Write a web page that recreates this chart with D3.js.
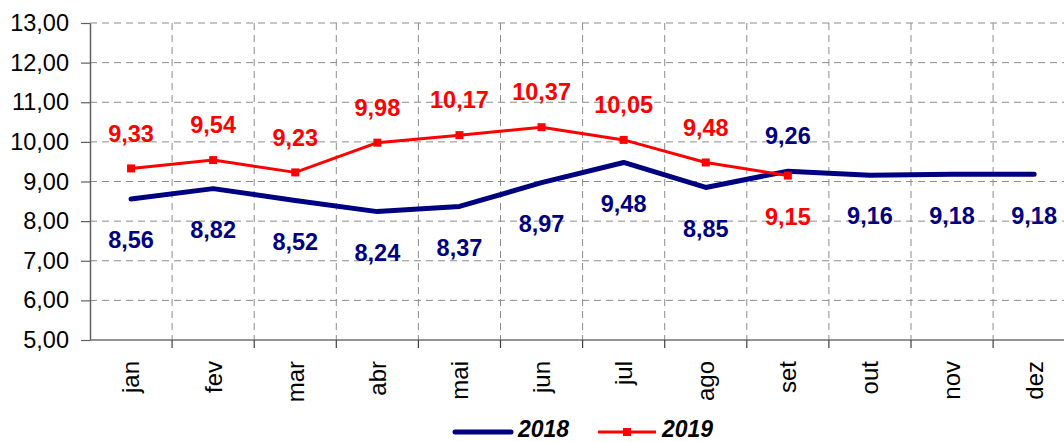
<!DOCTYPE html>
<html>
<head>
<meta charset="utf-8">
<script src="https://cdn.jsdelivr.net/npm/d3@7"></script>
<style>
  html, body { margin: 0; padding: 0; background: #fff; }
  svg { display: block; font-family: "Liberation Sans", Arial, sans-serif; }
</style>
</head>
<body>
<svg id="chart" width="1064" height="442"></svg>
<script>
const months = ["jan","fev","mar","abr","mai","jun","jul","ago","set","out","nov","dez"];
const values2018 = [8.56, 8.82, 8.52, 8.24, 8.37, 8.97, 9.48, 8.85, 9.26, 9.16, 9.18, 9.18];
const values2019 = [9.33, 9.54, 9.23, 9.98, 10.17, 10.37, 10.05, 9.48, 9.15];
const labelPos2018 = ["below","below","below","below","below","below","below","below","above","below","below","below"];
const labelPos2019 = ["above","above","above","above","above","above","above","above","below"];
const yTicks = [5,6,7,8,9,10,11,12,13];
const seriesNames = ["2018","2019"];

const svg = d3.select("#chart");
const mLeft = 90, mTop = 23, mBottom = 340, mRight = 90 + 12 * 82.1;

const x = d3.scaleBand().domain(months).range([mLeft, mRight]);
const y = d3.scaleLinear().domain([5, 13]).range([mBottom, mTop]);
const fmt = v => d3.format(".2f")(v).replace(".", ",");

// horizontal gridlines
svg.append("g").selectAll("line").data(yTicks.filter(d => d > 5)).join("line")
  .attr("x1", mLeft).attr("x2", 1064)
  .attr("y1", d => y(d)).attr("y2", d => y(d))
  .attr("stroke", "#8c8c8c").attr("stroke-width", 1).attr("stroke-dasharray", "7,5");

// vertical gridlines at category boundaries
svg.append("g").selectAll("line").data(months.slice(1)).join("line")
  .attr("x1", d => x(d)).attr("x2", d => x(d))
  .attr("y1", mTop).attr("y2", mBottom)
  .attr("stroke", "#8c8c8c").attr("stroke-width", 1).attr("stroke-dasharray", "7,5");

// y axis
const yAxis = svg.append("g").attr("transform", `translate(${mLeft},0)`)
  .call(d3.axisLeft(y).tickValues(yTicks).tickSize(9).tickSizeOuter(0).tickFormat(fmt));
yAxis.select(".domain").attr("stroke", "#606060").attr("stroke-width", 1.5);
yAxis.selectAll(".tick line").attr("stroke", "#606060").attr("stroke-width", 1.2);
yAxis.selectAll(".tick text").attr("font-size", 23.5).attr("fill", "#000")
  .attr("font-family", "Liberation Sans, Arial, sans-serif").attr("x", -21);

// x axis
svg.append("line").attr("x1", mLeft).attr("x2", 1064).attr("y1", mBottom).attr("y2", mBottom)
  .attr("stroke", "#707070").attr("stroke-width", 1.5);
svg.append("g").selectAll("line").data(months.slice(1)).join("line")
  .attr("x1", d => x(d)).attr("x2", d => x(d)).attr("y1", mBottom).attr("y2", mBottom + 8)
  .attr("stroke", "#404040").attr("stroke-width", 1.2);
svg.append("g").selectAll("text").data(months).join("text")
  .attr("transform", d => `translate(${x(d) + x.bandwidth() / 2},361) rotate(-90)`)
  .attr("text-anchor", "end").attr("dy", "0.35em")
  .attr("font-size", 24).attr("fill", "#000").text(d => d);

const cx = (d, i) => x(months[i]) + x.bandwidth() / 2;
const line = d3.line().x(cx).y(d => y(d));

// 2018 line
svg.append("path").datum(values2018).attr("d", line)
  .attr("fill", "none").attr("stroke", "#000080").attr("stroke-width", 5)
  .attr("stroke-linejoin", "round").attr("stroke-linecap", "round");

// 2019 line
svg.append("path").datum(values2019).attr("d", line)
  .attr("fill", "none").attr("stroke", "#ff0000").attr("stroke-width", 3)
  .attr("stroke-linejoin", "round");
svg.append("g").selectAll("rect").data(values2019).join("rect")
  .attr("x", (d, i) => cx(d, i) - 4).attr("y", d => y(d) - 4)
  .attr("width", 8).attr("height", 8).attr("fill", "#ff0000");

// data labels
function labels(vals, pos, color) {
  svg.append("g").selectAll("text").data(vals).join("text")
    .attr("x", cx)
    .attr("y", (d, i) => y(d) + (pos[i] === "above" ? -35 : 41))
    .attr("dy", "0.35em").attr("text-anchor", "middle")
    .attr("font-size", 23.5).attr("font-weight", "bold").attr("fill", color)
    .text(fmt);
}
labels(values2018, labelPos2018, "#000080");
labels(values2019, labelPos2019, "#ff0000");

// legend
const lg = svg.append("g");
lg.append("line").attr("x1", 455).attr("x2", 511).attr("y1", 432).attr("y2", 432)
  .attr("stroke", "#000080").attr("stroke-width", 5).attr("stroke-linecap", "round");
lg.append("text").attr("x", 518).attr("y", 437).attr("font-size", 23)
  .attr("font-weight", "bold").attr("font-style", "italic").attr("fill", "#000").text(seriesNames[0]);
lg.append("line").attr("x1", 598).attr("x2", 656).attr("y1", 432).attr("y2", 432)
  .attr("stroke", "#ff0000").attr("stroke-width", 3);
lg.append("rect").attr("x", 623).attr("y", 428).attr("width", 8).attr("height", 8).attr("fill", "#ff0000");
lg.append("text").attr("x", 662).attr("y", 437).attr("font-size", 23)
  .attr("font-weight", "bold").attr("font-style", "italic").attr("fill", "#000").text(seriesNames[1]);
</script>
</body>
</html>
